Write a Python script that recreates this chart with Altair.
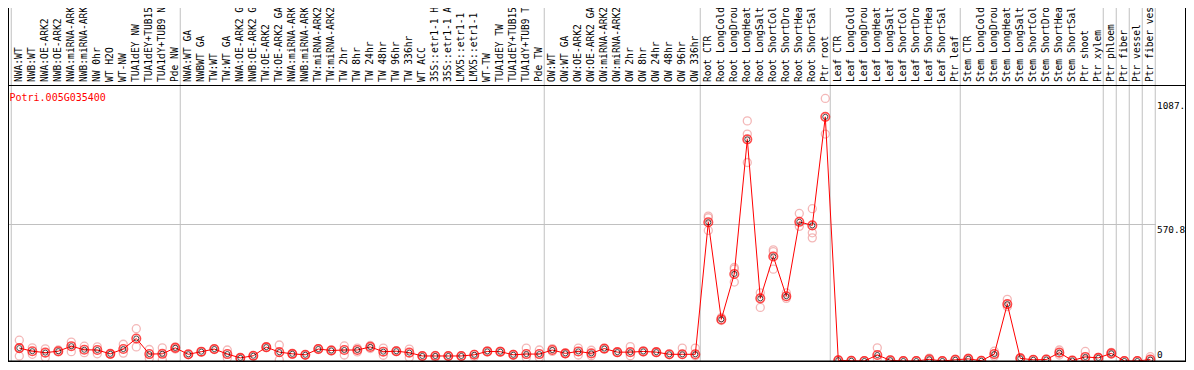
import altair as alt
import pandas as pd

gene = "Potri.005G035400"

labels = [
    "NWA:WT", "NWB:WT", "NWA:OE-ARK2", "NWB:OE-ARK2", "NWA:miRNA-ARK2", "NWB:miRNA-ARK2",
    "NW 0hr", "WT H2O", "WT-NW", "TUA1dEY NW", "TUA1dEY+TUB15 NW", "TUA1dY+TUB9 NW", "Pde NW",
    "NWA:WT GA", "NWBWT GA", "TW:WT", "TW:WT GA", "NWA:OE-ARK2 GA", "NWB:OE-ARK2 GA",
    "TW:OE-ARK2", "TW:OE-ARK2 GA", "NWA:miRNA-ARK2 GA", "NWB:miRNA-ARK2 GA", "TW:miRNA-ARK2",
    "TW:miRNA-ARK2 GA", "TW 2hr", "TW 8hr", "TW 24hr", "TW 48hr", "TW 96hr", "TW 336hr",
    "WT ACC", "35S::etr1-1 H2O", "35S::etr1-1 ACC", "LMX5::etr1-1 H2O", "LMX5::etr1-1 ACC",
    "WT-TW", "TUA1dEY TW", "TUA1dEY+TUB15 TW", "TUA1dY+TUB9 TW", "Pde TW",
    "OW:WT", "OW:WT GA", "OW:OE-ARK2", "OW:OE-ARK2 GA", "OW:miRNA-ARK2", "OW:miRNA-ARK2 GA",
    "OW 2hr", "OW 8hr", "OW 24hr", "OW 48hr", "OW 96hr", "OW 336hr",
    "Root CTR", "Root LongCold", "Root LongDrought", "Root LongHeat", "Root LongSalt",
    "Root ShortCold", "Root ShortDrought", "Root ShortHeat", "Root ShortSalt", "Ptr root",
    "Leaf CTR", "Leaf LongCold", "Leaf LongDrought", "Leaf LongHeat", "Leaf LongSalt",
    "Leaf ShortCold", "Leaf ShortDrought", "Leaf ShortHeat", "Leaf ShortSalt", "Ptr leaf",
    "Stem CTR", "Stem LongCold", "Stem LongDrought", "Stem LongHeat", "Stem LongSalt",
    "Stem ShortCold", "Stem ShortDrought", "Stem ShortHeat", "Stem ShortSalt", "Ptr shoot",
    "Ptr xylem", "Ptr phloem", "Ptr fiber", "Ptr vessel", "Ptr fiber vessel",
]

means = [
    54, 41, 35, 41, 62, 47, 46, 30, 50, 94, 29, 30, 55,
    28, 39, 50, 29, 13, 22, 58, 37, 30, 26, 50, 44, 46, 46, 59, 39, 41, 35,
    21, 21, 21, 21, 26, 40, 39, 26, 29, 29,
    46, 32, 40, 32, 52, 37, 37, 40, 37, 28, 28, 28,
    580, 174, 364, 927, 262, 437, 271, 582, 567, 1021,
    3, 1, 0, 25, 3, 0, 0, 7, 0, 5,
    9, 1, 29, 238, 11, 5, 6, 35, 2, 17, 13,
    32, 0, 0, 6,
]

reps = [
    [87, 21, 54], [55, 28], [51, 15], [46, 38], [79, 39], [62, 35], [59, 30], [30, 28],
    [70, 33], [135, 59], [48, 11], [55, 5], [59, 50],
    [28, 26], [39, 37], [50, 48], [46, 13], [13, 11], [22, 20], [58, 56], [67, 5],
    [30, 28], [26, 24], [52, 48], [46, 42], [63, 25], [54, 38], [65, 52], [54, 24],
    [43, 39], [50, 15], [21, 19], [23, 15], [21, 19], [21, 19], [28, 18], [42, 38],
    [41, 37], [28, 24], [54, 15], [46, 15],
    [52, 40], [32, 30], [54, 25], [45, 22], [52, 50], [37, 35], [60, 22], [42, 38],
    [37, 35], [28, 26], [54, 28], [54, 22],
    [606, 599, 546], [182, 169], [391, 384, 330], [1004, 949, 830], [285, 224],
    [465, 457, 384], [285, 262], [617, 563], [637, 536, 515], [1098, 949],
    [5, 0], [2, 0], [0, 0], [55, 10], [5, 0], [0, 0], [1, 0], [12, 2], [0, 0], [8, 2],
    [12, 5], [2, 0], [41, 20], [258, 227], [14, 8], [6, 3], [8, 4], [46, 25], [3, 0],
    [40, 5], [15, 10],
    [36, 28], [0, 0], [0, 0], [18, 0],
]

group_last = [-1, 12, 40, 52, 62, 72, 83, 84, 85, 86, 87]
axis_values = [1087, 570.8]
axis_texts = ["1087.", "570.8"]
grid_value = 570.8

MONO = "DejaVu Sans Mono"
W, H = 1178, 354

idx = list(range(len(labels)))
df_mean = pd.DataFrame({"i": idx, "label": labels, "mean": means})
df_reps = pd.DataFrame(
    [{"i": i, "v": v} for i, vals in enumerate(reps) for v in vals]
)
df_grid = pd.DataFrame({"pos": [g + 0.38 for g in group_last]})

xs = alt.Scale(domain=[0, len(labels) - 1], range=[11.3, 11.3 + 13 * (len(labels) - 1)], nice=False, zero=False)
ys = alt.Scale(domain=[0, 570.8], range=[353, 216.5], nice=False, zero=False)

X = lambda f: alt.X(f, type="quantitative", scale=xs, axis=None)
Y = lambda f: alt.Y(f, type="quantitative", scale=ys, axis=None)

vgrid = alt.Chart(df_grid).mark_rule(color="#c0c0c0", strokeWidth=1).encode(
    x=X("pos"), y=alt.value(0), y2=alt.value(H)
)
hgrid = alt.Chart(pd.DataFrame({"v": [grid_value]})).mark_rule(color="#c0c0c0", strokeWidth=1).encode(
    y=Y("v"), x=alt.value(0), x2=alt.value(1148)
)

frame_df = pd.DataFrame({"k": [0]})
top_sep = alt.Chart(frame_df).mark_rule(color="black", strokeWidth=1).encode(
    x=alt.value(0), x2=alt.value(W), y=alt.value(77.5)
)
bottom = alt.Chart(frame_df).mark_rule(color="black", strokeWidth=1.5).encode(
    x=alt.value(0), x2=alt.value(W), y=alt.value(353.2)
)
left = alt.Chart(frame_df).mark_rule(color="black", strokeWidth=1).encode(
    x=alt.value(0.5), y=alt.value(0), y2=alt.value(H)
)
right = alt.Chart(frame_df).mark_rule(color="black", strokeWidth=1).encode(
    x=alt.value(W - 0.5), y=alt.value(0), y2=alt.value(H)
)

top_labels = alt.Chart(df_mean).mark_text(
    angle=270, align="left", baseline="middle", font=MONO, fontSize=9.6, color="black"
).encode(x=X("i"), y=alt.value(74), text="label:N")

title = alt.Chart(pd.DataFrame({"t": [gene]})).mark_text(
    align="left", baseline="middle", font=MONO, fontSize=10, color="red"
).encode(x=alt.value(1.5), y=alt.value(90), text="t:N")

ax_top = alt.Chart(pd.DataFrame({"v": axis_values, "t": axis_texts})).mark_text(
    align="left", baseline="top", font=MONO, fontSize=9.4, color="black", dy=1
).encode(x=alt.value(1149), y=Y("v"), text="t:N")
ax_zero = alt.Chart(pd.DataFrame({"v": [0], "t": ["0"]})).mark_text(
    align="left", baseline="bottom", font=MONO, fontSize=9.4, color="black", dy=-1
).encode(x=alt.value(1149), y=Y("v"), text="t:N")

rep_pts = alt.Chart(df_reps).mark_point(
    shape="circle", size=64, filled=False, color="#f09a9a", strokeWidth=1.3
).encode(x=X("i"), y=Y("v"))

line = alt.Chart(df_mean).mark_line(color="#ff0000", strokeWidth=1).encode(
    x=X("i"), y=Y("mean")
)
mean_red = alt.Chart(df_mean).mark_point(
    shape="circle", size=72, filled=False, color="#ff0000", strokeWidth=1.6
).encode(x=X("i"), y=Y("mean"))
mean_blk = alt.Chart(df_mean).mark_point(
    shape="circle", size=26, filled=False, color="black", strokeWidth=1
).encode(x=X("i"), y=Y("mean"))

chart = alt.layer(
    vgrid, hgrid, top_labels, title, ax_top, ax_zero,
    rep_pts, line, mean_red, mean_blk,
    top_sep, bottom, left, right,
).properties(
    width=W, height=H,
    autosize=alt.AutoSizeParams(type="none"),
    padding=0,
).configure_view(strokeWidth=0)

chart.save("out.html", embed_options={"renderer": "svg", "actions": False})
